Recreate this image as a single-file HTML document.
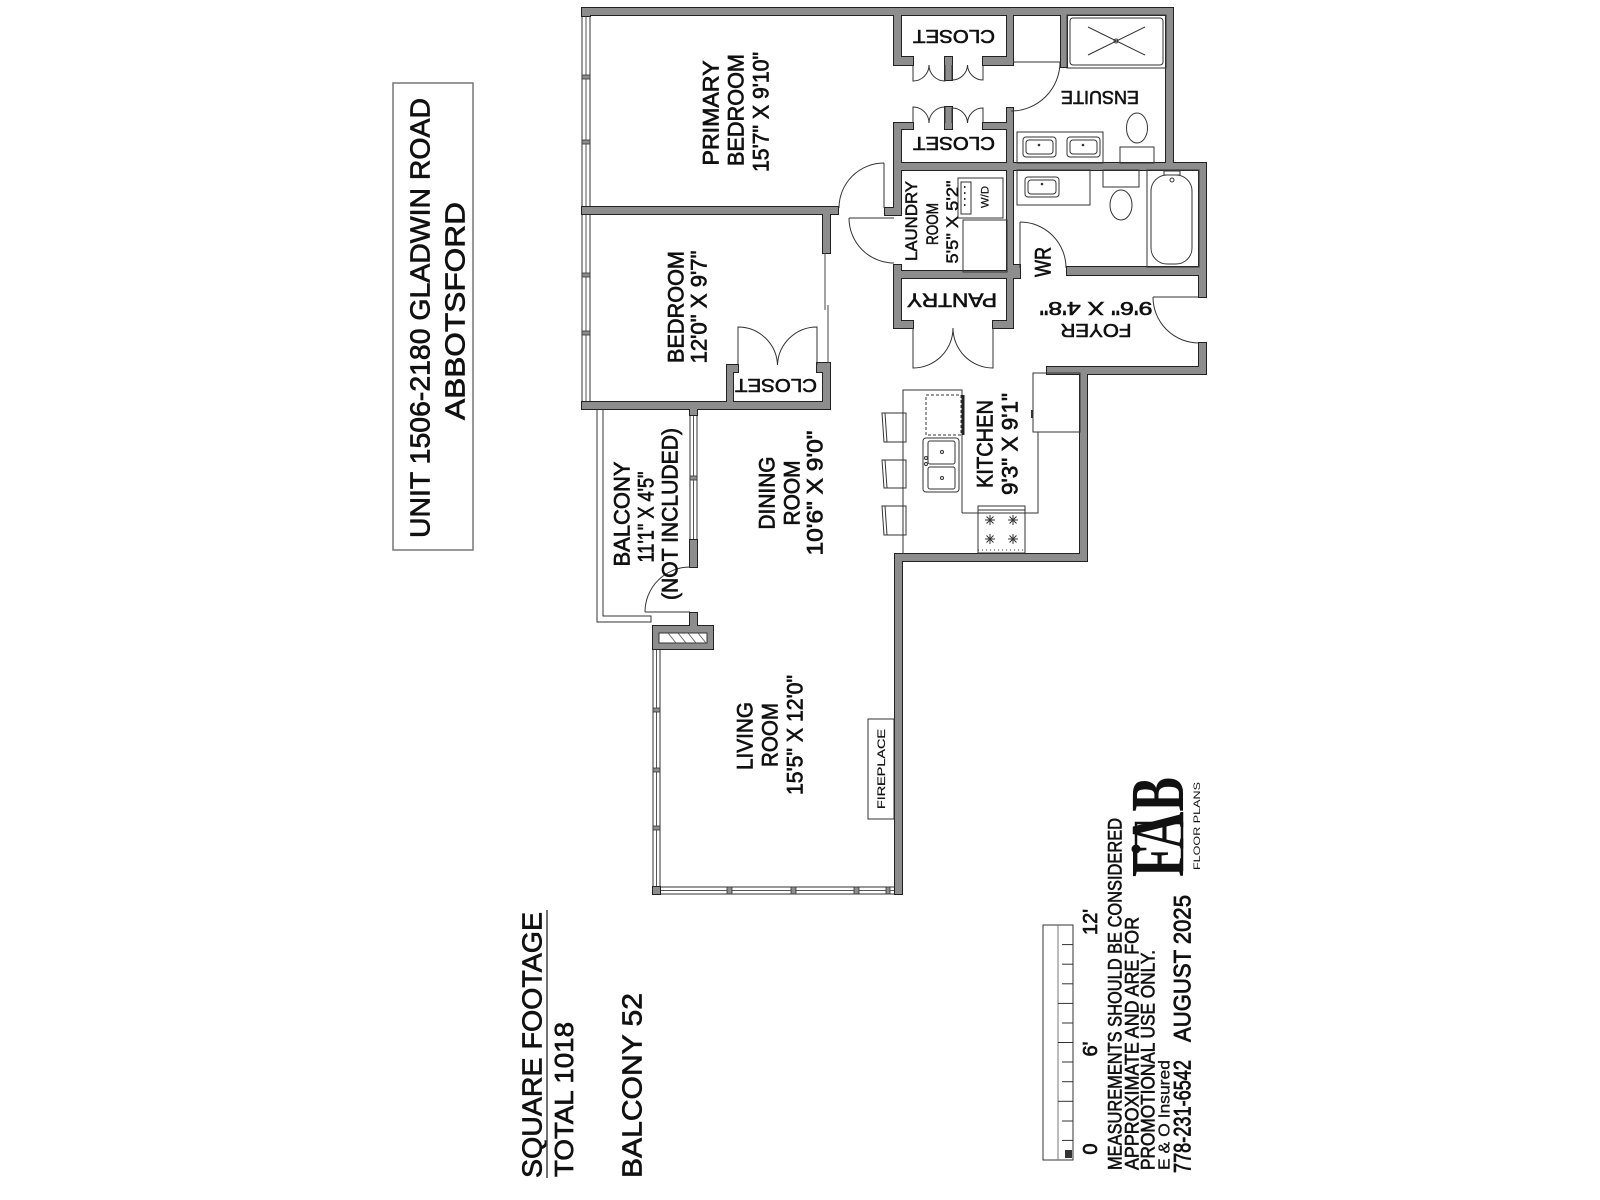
<!DOCTYPE html>
<html><head><meta charset="utf-8"><style>
html,body{margin:0;padding:0;background:#fff;}
svg{display:block;}
.t{font-family:"Liberation Sans",sans-serif;fill:#111;stroke:#111;stroke-width:0.7;}
.s{font-family:"Liberation Serif",serif;fill:#111;}
.l{fill:none;stroke:#333;stroke-width:1;}
</style></head><body>
<svg width="1600" height="1200" viewBox="0 0 1600 1200" xmlns="http://www.w3.org/2000/svg">
<rect width="1600" height="1200" fill="#fff"/>

<!-- Title box -->
<rect x="393" y="83" width="80" height="467" fill="none" stroke="#777" stroke-width="1.5"/>
<text class="t" font-size="28" text-anchor="middle" textLength="440" lengthAdjust="spacingAndGlyphs" transform="translate(429.7,318) rotate(-90)">UNIT 1506-2180 GLADWIN ROAD</text>
<text class="t" font-size="28" text-anchor="middle" textLength="218" lengthAdjust="spacingAndGlyphs" transform="translate(464.7,311) rotate(-90)">ABBOTSFORD</text>

<!-- Square footage -->
<text class="t" font-size="28" textLength="266" lengthAdjust="spacingAndGlyphs" transform="translate(541.7,1178) rotate(-90)">SQUARE FOOTAGE</text>
<line x1="547" y1="910" x2="547" y2="1178" stroke="#444" stroke-width="1.5"/>
<text class="t" font-size="26" textLength="155" lengthAdjust="spacingAndGlyphs" transform="translate(573,1177) rotate(-90)">TOTAL 1018</text>
<text class="t" font-size="28" textLength="185" lengthAdjust="spacingAndGlyphs" transform="translate(641.7,1178) rotate(-90)">BALCONY 52</text>

<!-- Balcony rail -->
<path d="M597,409 L597,622 L651,622 L651,616 L603,616 L603,409 Z" fill="#fff" stroke="#333" stroke-width="1"/>

<!-- Windows -->
<g fill="#fff" stroke="#333" stroke-width="1">
<rect x="582" y="15" width="8" height="388"/>
<rect x="690" y="415" width="7" height="125"/>
<rect x="653" y="649" width="7" height="238"/>
<rect x="660" y="887" width="235" height="7"/>
</g>
<g stroke="#555" stroke-width="1">
<line x1="586" y1="15" x2="586" y2="403"/>
<line x1="693.5" y1="415" x2="693.5" y2="540"/>
<line x1="656.5" y1="649" x2="656.5" y2="887"/>
<line x1="660" y1="890.5" x2="895" y2="890.5"/>
</g>
<g fill="#8d8d8d" stroke="#333" stroke-width="0.8">
<rect x="582" y="75" width="8" height="4"/><rect x="582" y="140" width="8" height="4"/>
<rect x="582" y="273" width="8" height="4"/><rect x="582" y="331" width="8" height="4"/>
<rect x="690" y="476" width="7" height="4"/>
<rect x="653" y="708" width="7" height="4"/><rect x="653" y="768" width="7" height="4"/><rect x="653" y="826" width="7" height="4"/>
<rect x="727" y="887" width="5" height="7"/><rect x="791" y="887" width="5" height="7"/><rect x="854" y="887" width="5" height="7"/><rect x="886" y="887" width="4" height="7"/>
</g>

<!-- Walls: outline layer -->
<g fill="#8d8d8d" stroke="#222" stroke-width="2">
<rect x="582" y="8" width="591" height="7"/>
<rect x="582" y="8" width="8" height="8"/>
<rect x="1166" y="8" width="7" height="162"/>
<rect x="894" y="163" width="312" height="7"/>
<rect x="1199" y="163" width="7" height="134"/>
<rect x="1199" y="343" width="7" height="31"/>
<rect x="1047" y="367" width="159" height="7"/>
<rect x="1080" y="367" width="7" height="194"/>
<rect x="895" y="554" width="192" height="7"/>
<rect x="895" y="554" width="7" height="340"/>
<rect x="653" y="887" width="7" height="7"/>
<rect x="653" y="626" width="60" height="23"/>
<rect x="690" y="613" width="7" height="14"/>
<rect x="690" y="403" width="7" height="12"/>
<rect x="690" y="540" width="7" height="27"/>
<rect x="582" y="402" width="248" height="7"/>
<rect x="582" y="207" width="256" height="7"/>
<rect x="823" y="207" width="7" height="46"/>
<rect x="823" y="363" width="7" height="46"/>
<rect x="727" y="365" width="6" height="44"/>
<rect x="727" y="365" width="11" height="7"/>
<rect x="817" y="363" width="13" height="9"/>
<rect x="894" y="8" width="7" height="57"/>
<rect x="894" y="57" width="19" height="8"/>
<rect x="945" y="57" width="7" height="23"/>
<rect x="983" y="57" width="30" height="8"/>
<rect x="1007" y="8" width="6" height="57"/>
<rect x="1061" y="8" width="6" height="59"/>
<rect x="894" y="123" width="7" height="47"/>
<rect x="894" y="123" width="19" height="6"/>
<rect x="945" y="107" width="7" height="22"/>
<rect x="983" y="123" width="30" height="6"/>
<rect x="1007" y="108" width="6" height="170"/>
<rect x="894" y="170" width="7" height="45"/>
<rect x="885" y="208" width="16" height="7"/>
<rect x="894" y="265" width="7" height="63"/>
<rect x="894" y="271" width="126" height="7"/>
<rect x="894" y="321" width="19" height="7"/>
<rect x="993" y="321" width="20" height="7"/>
<rect x="1007" y="271" width="6" height="57"/>
<rect x="1013" y="265" width="7" height="13"/>
<rect x="1067" y="267" width="139" height="8"/>
</g>
<!-- Walls: fill layer (merges joints) -->
<g fill="#8d8d8d">
<rect x="582" y="8" width="591" height="7"/>
<rect x="582" y="8" width="8" height="8"/>
<rect x="1166" y="8" width="7" height="162"/>
<rect x="894" y="163" width="312" height="7"/>
<rect x="1199" y="163" width="7" height="134"/>
<rect x="1199" y="343" width="7" height="31"/>
<rect x="1047" y="367" width="159" height="7"/>
<rect x="1080" y="367" width="7" height="194"/>
<rect x="895" y="554" width="192" height="7"/>
<rect x="895" y="554" width="7" height="340"/>
<rect x="653" y="887" width="7" height="7"/>
<rect x="653" y="626" width="60" height="23"/>
<rect x="690" y="613" width="7" height="14"/>
<rect x="690" y="403" width="7" height="12"/>
<rect x="690" y="540" width="7" height="27"/>
<rect x="582" y="402" width="248" height="7"/>
<rect x="582" y="207" width="256" height="7"/>
<rect x="823" y="207" width="7" height="46"/>
<rect x="823" y="363" width="7" height="46"/>
<rect x="727" y="365" width="6" height="44"/>
<rect x="727" y="365" width="11" height="7"/>
<rect x="817" y="363" width="13" height="9"/>
<rect x="894" y="8" width="7" height="57"/>
<rect x="894" y="57" width="19" height="8"/>
<rect x="945" y="57" width="7" height="23"/>
<rect x="983" y="57" width="30" height="8"/>
<rect x="1007" y="8" width="6" height="57"/>
<rect x="1061" y="8" width="6" height="59"/>
<rect x="894" y="123" width="7" height="47"/>
<rect x="894" y="123" width="19" height="6"/>
<rect x="945" y="107" width="7" height="22"/>
<rect x="983" y="123" width="30" height="6"/>
<rect x="1007" y="108" width="6" height="170"/>
<rect x="894" y="170" width="7" height="45"/>
<rect x="885" y="208" width="16" height="7"/>
<rect x="894" y="265" width="7" height="63"/>
<rect x="894" y="271" width="126" height="7"/>
<rect x="894" y="321" width="19" height="7"/>
<rect x="993" y="321" width="20" height="7"/>
<rect x="1007" y="271" width="6" height="57"/>
<rect x="1013" y="265" width="7" height="13"/>
<rect x="1067" y="267" width="139" height="8"/>
</g>
<!-- chimney hatch -->
<rect x="659" y="633" width="48" height="10" fill="#fff" stroke="#333" stroke-width="1"/>
<g stroke="#555" stroke-width="0.8">
<line x1="668" y1="633" x2="676" y2="643"/><line x1="678" y1="633" x2="686" y2="643"/><line x1="688" y1="633" x2="696" y2="643"/><line x1="698" y1="633" x2="706" y2="643"/>
</g>

<!-- Bedroom sliding door lines -->
<line x1="825" y1="253" x2="825" y2="310" stroke="#444" stroke-width="1"/>
<line x1="828" y1="305" x2="828" y2="363" stroke="#444" stroke-width="1"/>

<!-- Doors -->
<g class="l">
<path d="M913,65 L913,81 A16,16 0 0 0 929,65"/>
<path d="M945,65 L945,81 A16,16 0 0 1 929,65"/>
<path d="M952,65 L952,80 A15.5,15.5 0 0 0 967.5,65"/>
<path d="M983,65 L983,80 A15.5,15.5 0 0 1 967.5,65"/>
<path d="M913,123 L913,107 A16,16 0 0 1 929,123"/>
<path d="M945,123 L945,107 A16,16 0 0 0 929,123"/>
<path d="M952,123 L952,108 A15.5,15.5 0 0 1 967.5,123"/>
<path d="M983,123 L983,108 A15.5,15.5 0 0 0 967.5,123"/>
<path d="M913,328 L913,368 A40,40 0 0 0 953,328"/>
<path d="M993,328 L993,368 A40,40 0 0 1 953,328"/>
<path d="M738,365 L738,327 A39.5,39.5 0 0 1 777.5,365"/>
<path d="M817,365 L817,327 A39.5,39.5 0 0 0 777.5,365"/>
<path d="M1013,62 L1061,62"/>
<path d="M1060,62 A49,49 0 0 1 1011,111"/>
<path d="M884,163 L884,208"/>
<path d="M884,163 A45,45 0 0 0 839,208"/>
<path d="M849,218 L894,218"/>
<path d="M849,218 A45,45 0 0 0 894,263"/>
<path d="M1020,222 L1020,268"/>
<path d="M1020,222 A46,46 0 0 1 1066,268"/>
<path d="M1153,297 L1199,297"/>
<path d="M1153,297 A46,46 0 0 0 1199,343"/>
<path d="M645,612 L690,612"/>
<path d="M645,612 A45,45 0 0 1 690,567"/>
</g>

<!-- Ensuite fixtures -->
<g class="l">
<rect x="1067" y="15" width="99" height="53"/>
<rect x="1070" y="18" width="93" height="47" rx="3"/>
<line x1="1088" y1="27" x2="1145" y2="55"/>
<line x1="1088" y1="55" x2="1145" y2="27"/>
<circle cx="1116" cy="41" r="2"/>
<rect x="1017" y="132" width="86" height="31"/>
<rect x="1023" y="137" width="33" height="20" rx="3"/>
<rect x="1067" y="137" width="33" height="20" rx="3"/>
<rect x="1026" y="140" width="27" height="14" rx="3"/>
<rect x="1070" y="140" width="27" height="14" rx="3"/>
<ellipse cx="1137" cy="128" rx="10.5" ry="15"/>
<rect x="1120" y="147" width="34" height="16"/>
<rect x="1017" y="170" width="73" height="35"/>
<rect x="1025" y="177" width="34" height="20" rx="3"/>
<rect x="1028" y="180" width="28" height="14" rx="3"/>
<rect x="1103" y="170" width="36" height="17"/>
<ellipse cx="1121" cy="205" rx="11" ry="15"/>
<rect x="1147" y="170" width="52" height="97"/>
<rect x="1151" y="175" width="41" height="89" rx="16"/>
<rect x="1164" y="171" width="16" height="4"/>
<circle cx="1172" cy="180" r="2"/>
<rect x="958" y="178" width="45" height="40"/>
<rect x="961" y="182" width="10" height="32"/>
<rect x="963" y="220" width="44" height="52"/>
</g>
<g fill="#333">
<circle cx="1039" cy="145" r="1.3"/><circle cx="1083" cy="145" r="1.3"/><circle cx="1042" cy="184" r="1.3"/>
<rect x="964" y="186" width="1.5" height="2"/><rect x="964" y="192" width="1.5" height="2"/><rect x="964" y="198" width="1.5" height="2"/><rect x="964" y="204" width="1.5" height="2"/>
</g>

<!-- Kitchen fixtures -->
<g class="l">
<rect x="1033" y="373" width="47" height="59"/>
<path d="M1038,432 L1038,513 L962,513"/>
<path d="M903,554 L903,390 L962,390 L962,513"/>
<rect x="926" y="395" width="35" height="40" stroke-dasharray="3,2"/>
<rect x="923" y="438" width="36" height="54" rx="3"/>
<rect x="928" y="441" width="27" height="23" rx="2"/>
<rect x="928" y="467" width="27" height="22" rx="2"/>
<circle cx="942" cy="452" r="1.5"/><circle cx="942" cy="478" r="1.5"/>
<circle cx="926" cy="458" r="1.5"/><circle cx="926" cy="464" r="1.5"/>
<rect x="978" y="506" width="47" height="47"/>
<line x1="978" y1="510" x2="1025" y2="510"/>
<line x1="978" y1="550" x2="1025" y2="550" stroke-dasharray="1,3"/>
<path d="M882,413 L906,413 L906,442 L884,442 Z"/>
<path d="M882,460 L906,460 L906,488 L884,488 Z"/>
<path d="M882,506 L906,506 L906,535 L884,535 Z"/>
<line x1="885" y1="413" x2="887" y2="442"/><line x1="885" y1="460" x2="887" y2="488"/><line x1="885" y1="506" x2="887" y2="535"/>
<rect x="868" y="719" width="26" height="100"/>
</g>
<line x1="963" y1="395" x2="963" y2="435" stroke="#222" stroke-width="3"/>
<g stroke="#333" stroke-width="1">
<path d="M985,520 h10 M990,515 v10 M986.5,516.5 l7,7 M993.5,516.5 l-7,7"/>
<path d="M1008,520 h10 M1013,515 v10 M1009.5,516.5 l7,7 M1016.5,516.5 l-7,7"/>
<path d="M985,539 h10 M990,534 v10 M986.5,535.5 l7,7 M993.5,535.5 l-7,7"/>
<path d="M1008,539 h10 M1013,534 v10 M1009.5,535.5 l7,7 M1016.5,535.5 l-7,7"/>
<line x1="1032" y1="410" x2="1032" y2="418" stroke-width="2"/>
</g>

<!-- Room labels -->
<g class="t" font-size="22" text-anchor="middle">
<text textLength="105" lengthAdjust="spacingAndGlyphs" transform="translate(718.6,113) rotate(-90)">PRIMARY</text>
<text textLength="112" lengthAdjust="spacingAndGlyphs" transform="translate(743.6,110) rotate(-90)">BEDROOM</text>
<text textLength="120" lengthAdjust="spacingAndGlyphs" transform="translate(768.6,112) rotate(-90)">15'7" X 9'10"</text>
<text textLength="112" lengthAdjust="spacingAndGlyphs" transform="translate(683.6,307) rotate(-90)">BEDROOM</text>
<text textLength="113" lengthAdjust="spacingAndGlyphs" transform="translate(706.6,307) rotate(-90)">12'0" X 9'7"</text>
<text textLength="73" lengthAdjust="spacingAndGlyphs" transform="translate(774.6,493) rotate(-90)">DINING</text>
<text textLength="65" lengthAdjust="spacingAndGlyphs" transform="translate(799.6,493) rotate(-90)">ROOM</text>
<text textLength="125" lengthAdjust="spacingAndGlyphs" transform="translate(822.6,493) rotate(-90)">10'6" X 9'0"</text>
<text textLength="68" lengthAdjust="spacingAndGlyphs" transform="translate(752.6,736) rotate(-90)">LIVING</text>
<text textLength="64" lengthAdjust="spacingAndGlyphs" transform="translate(777.6,735) rotate(-90)">ROOM</text>
<text textLength="120" lengthAdjust="spacingAndGlyphs" transform="translate(802.6,735) rotate(-90)">15'5" X 12'0"</text>
<text textLength="105" lengthAdjust="spacingAndGlyphs" transform="translate(629.6,514) rotate(-90)">BALCONY</text>
<text textLength="91" lengthAdjust="spacingAndGlyphs" transform="translate(653.6,517) rotate(-90)">11'1" X 4'5"</text>
<text textLength="172" lengthAdjust="spacingAndGlyphs" transform="translate(677.6,514) rotate(-90)">(NOT INCLUDED)</text>
<text textLength="88" lengthAdjust="spacingAndGlyphs" transform="translate(992.6,444) rotate(-90)">KITCHEN</text>
<text textLength="102" lengthAdjust="spacingAndGlyphs" transform="translate(1017.6,444) rotate(-90)">9'3" X 9'1"</text>
<text textLength="30" lengthAdjust="spacingAndGlyphs" transform="translate(1050.6,262) rotate(-90)">WR</text>
</g>
<g class="t" font-size="17" text-anchor="middle" style="stroke-width:0.5">
<text textLength="80" lengthAdjust="spacingAndGlyphs" transform="translate(916.9,221) rotate(-90)">LAUNDRY</text>
<text textLength="42" lengthAdjust="spacingAndGlyphs" transform="translate(937.9,224) rotate(-90)">ROOM</text>
<text textLength="83" lengthAdjust="spacingAndGlyphs" transform="translate(957.9,222) rotate(-90)">5'5" X 5'2"</text>
</g>
<g class="t" font-size="11" text-anchor="middle" style="stroke-width:0.2">
<text textLength="22" lengthAdjust="spacingAndGlyphs" transform="translate(988.5,197) rotate(-90)">W/D</text>
<text textLength="80" lengthAdjust="spacingAndGlyphs" transform="translate(884.8,769) rotate(-90)">FIREPLACE</text>
</g>
<g class="t" font-size="18" text-anchor="middle" style="stroke-width:0.6">
<text textLength="82" lengthAdjust="spacingAndGlyphs" transform="translate(954,29.8) rotate(180)">CLOSET</text>
<text textLength="82" lengthAdjust="spacingAndGlyphs" transform="translate(954,136.8) rotate(180)">CLOSET</text>
<text textLength="82" lengthAdjust="spacingAndGlyphs" transform="translate(776,378.8) rotate(180)">CLOSET</text>
<text textLength="78" lengthAdjust="spacingAndGlyphs" transform="translate(1100,90.8) rotate(180)">ENSUITE</text>
<text textLength="113" lengthAdjust="spacingAndGlyphs" transform="translate(1096,301.8) rotate(180)">9'6" X 4'8"</text>
<text textLength="71" lengthAdjust="spacingAndGlyphs" transform="translate(1096,323.8) rotate(180)">FOYER</text>
</g>
<text class="t" font-size="19" text-anchor="middle" textLength="90" lengthAdjust="spacingAndGlyphs" style="stroke-width:0.6" transform="translate(952,293.4) rotate(180)">PANTRY</text>

<!-- Scale bar -->
<rect x="1043" y="925" width="30" height="235" fill="none" stroke="#333" stroke-width="1"/>
<line x1="1058" y1="925" x2="1058" y2="1160" stroke="#777" stroke-width="1"/>
<g stroke="#333" stroke-width="1">
<line x1="1062" y1="944.6" x2="1073" y2="944.6"/><line x1="1062" y1="964.2" x2="1073" y2="964.2"/>
<line x1="1062" y1="983.8" x2="1073" y2="983.8"/><line x1="1058" y1="1003.4" x2="1073" y2="1003.4"/>
<line x1="1062" y1="1023" x2="1073" y2="1023"/><line x1="1058" y1="1042.5" x2="1073" y2="1042.5"/>
<line x1="1062" y1="1062" x2="1073" y2="1062"/><line x1="1062" y1="1081.7" x2="1073" y2="1081.7"/>
<line x1="1058" y1="1101.3" x2="1073" y2="1101.3"/><line x1="1062" y1="1121" x2="1073" y2="1121"/>
<line x1="1062" y1="1140.4" x2="1073" y2="1140.4"/>
</g>
<rect x="1065" y="1150" width="7" height="8" fill="#333"/>
<g class="t" font-size="20" text-anchor="middle">
<text transform="translate(1097,922) rotate(-90)">12'</text>
<text transform="translate(1097,1049) rotate(-90)">6'</text>
<text transform="translate(1097,1149) rotate(-90)">0</text>
</g>

<!-- Notes -->
<g class="t" style="stroke-width:0.6">
<text font-size="19" textLength="352" lengthAdjust="spacingAndGlyphs" transform="translate(1121.6,1170) rotate(-90)">MEASUREMENTS SHOULD BE CONSIDERED</text>
<text font-size="19" textLength="253" lengthAdjust="spacingAndGlyphs" transform="translate(1138.6,1170) rotate(-90)">APPROXIMATE AND ARE FOR</text>
<text font-size="19" textLength="220" lengthAdjust="spacingAndGlyphs" transform="translate(1154.6,1170) rotate(-90)">PROMOTIONAL USE ONLY.</text>
<text font-size="16" textLength="110" lengthAdjust="spacingAndGlyphs" style="stroke-width:0.3" transform="translate(1169.5,1170) rotate(-90)">E &amp; O Insured</text>
<text font-size="24" textLength="113" lengthAdjust="spacingAndGlyphs" style="stroke-width:0.8" transform="translate(1190.3,1173) rotate(-90)">778-231-6542</text>
<text font-size="24" textLength="147" lengthAdjust="spacingAndGlyphs" style="stroke-width:0.8" transform="translate(1190.3,1042) rotate(-90)">AUGUST 2025</text>
</g>

<!-- Logo -->
<rect x="1136" y="823" width="46" height="47" fill="none" stroke="#111" stroke-width="2.5"/>
<text class="s" font-size="76" font-weight="bold" text-anchor="middle" textLength="100" lengthAdjust="spacingAndGlyphs" transform="translate(1183,827) rotate(-90)">FAB</text>
<circle cx="1136" cy="849" r="4.5" fill="#111"/>
<text class="t" font-size="9" text-anchor="middle" textLength="88" lengthAdjust="spacingAndGlyphs" style="stroke-width:0" transform="translate(1200,826) rotate(-90)">FLOOR PLANS</text>
</svg>
</body></html>
